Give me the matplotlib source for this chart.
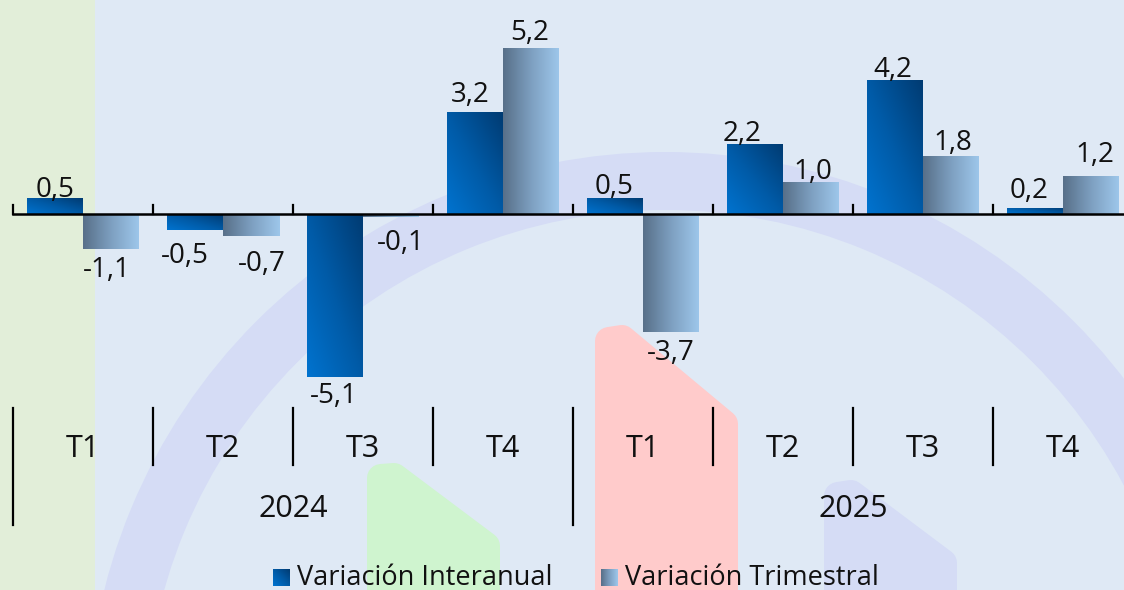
import numpy as np
import matplotlib
matplotlib.use("Agg")
import matplotlib.pyplot as plt
from matplotlib.patches import Rectangle, Wedge, Polygon
from matplotlib.colors import LinearSegmentedColormap
from matplotlib.transforms import blended_transform_factory

plt.rcParams['font.family'] = ['Open Sans', 'DejaVu Sans']

# --- data -------------------------------------------------------------
quarters = ["T1", "T2", "T3", "T4", "T1", "T2", "T3", "T4"]
years = ["2024", "2025"]
interanual = [0.5, -0.5, -5.1, 3.2, 0.5, 2.2, 4.2, 0.2]
trimestral = [-1.1, -0.7, -0.1, 5.2, -3.7, 1.0, 1.8, 1.2]
series_names = ["Variación Interanual", "Variación Trimestral"]

# label nudges in pixels: (horizontal shift, gap between bar end and digits)
nudge_int = [(0, 1), (-10, 13), (-1, 6), (-5, 10), (-1, 4), (-13, 3), (-2, 3), (-6, 10)]
nudge_tri = [(-4, 8), (11, 15), (10, 13), (-1, 8), (0, 8), (2, 3), (2, 6), (4, 14)]

# --- styling ----------------------------------------------------------
W, H = 1124, 590
BG = "#dfe9f5"
STRIP = "#e2eed9"
RING = "#d5dcf5"
PINK = "#ffcbcb"
GREEN = "#cff4cf"
TXT = "#111111"

cmap_int = LinearSegmentedColormap.from_list("int", ["#0073cf", "#005aa6", "#003b72"])
cmap_tri = LinearSegmentedColormap.from_list("tri", ["#587089", "#7d9fc0", "#9dc6ea"])

fig = plt.figure(figsize=(W / 100, H / 100), dpi=100)

# background decoration in pixel coordinates
bg = fig.add_axes([0, 0, 1, 1])
bg.set_xlim(0, W)
bg.set_ylim(H, 0)
bg.axis("off")
bg.add_patch(Rectangle((0, 0), W, H, facecolor=BG, edgecolor="none", zorder=0))
bg.add_patch(Rectangle((0, 0), 95, H, facecolor=STRIP, edgecolor="none", zorder=1))
bg.add_patch(Wedge((665, 730), 578, 0, 360, width=58, facecolor=RING,
                   edgecolor="none", zorder=1))


def rounded_shape(pts, color, r):
    lw = 2 * r * 72 / 100
    bg.add_patch(Polygon(pts, closed=True, facecolor=color, edgecolor=color,
                         linewidth=lw, joinstyle="round", zorder=1))


rounded_shape([(381, 620), (381, 478), (394, 477), (486, 546), (486, 620)], GREEN, 14)
rounded_shape([(609, 620), (609, 341), (622, 339), (724, 424), (724, 620)], PINK, 14)
rounded_shape([(838, 620), (838, 496), (851, 494), (943, 563), (943, 620)], RING, 14)

# main chart axes: 140 px per quarter, 32 px per percentage point
ax = fig.add_axes([0, 0, 1, 1])
ax.patch.set_alpha(0)
ax.axis("off")
x0_px, y0_px, px_x, px_y = 13, 214, 140, 32
xlim = (-0.5 - x0_px / px_x, -0.5 + (W - x0_px) / px_x)
ylim = (-(H - y0_px) / px_y, y0_px / px_y)

n = len(quarters)
idx = np.arange(n)
bw = 0.4
bars_i = ax.bar(idx - bw / 2, interanual, width=bw, color="#0060b0", zorder=3)
bars_t = ax.bar(idx + bw / 2, trimestral, width=bw, color="#7d9fc0", zorder=3)


def gradient(rect, cmap, diagonal):
    x, y = rect.get_x(), rect.get_y()
    w, h = rect.get_width(), rect.get_height()
    yb, yt = min(y, y + h), max(y, y + h)
    gx, gy = np.meshgrid(np.linspace(0, 1, 64), np.linspace(0, 1, 64))
    t = (gx + gy) / 2 if diagonal else gx
    im = ax.imshow(t, extent=[x, x + w, yb, yt], origin="lower", cmap=cmap,
                   vmin=0, vmax=1, aspect="auto", interpolation="bilinear", zorder=4)
    im.set_clip_path(rect)


for r in bars_i:
    gradient(r, cmap_int, True)
for r in bars_t:
    gradient(r, cmap_tri, False)

ax.set_xlim(*xlim)
ax.set_ylim(*ylim)


def fmt(v):
    return f"{v:.1f}".replace(".", ",")


DIGIT_H = 20  # digit height in pixels at the label size
for bars, vals, nudges in ((bars_i, interanual, nudge_int), (bars_t, trimestral, nudge_tri)):
    for r, v, (dx, gap) in zip(bars, vals, nudges):
        cx = r.get_x() + r.get_width() / 2
        dy = gap if v >= 0 else -(gap + DIGIT_H)
        ax.annotate(fmt(v), (cx, v), xytext=(dx, dy), textcoords="offset pixels",
                    ha="center", va="baseline", fontsize=20, color=TXT, zorder=6)

# zero line and upward ticks at quarter boundaries
ax.plot([-0.5, xlim[1] + 1], [0, 0], color="black", lw=1.8, zorder=5, clip_on=False)
bounds = np.arange(n + 1) - 0.5
tick_h = 9 / px_y
for b in bounds:
    ax.plot([b, b], [0, tick_h], color="black", lw=1.6, zorder=5)

# category axis: quarters and years (x in data, y in pixels)
tr = blended_transform_factory(ax.transData, bg.transData)
for k, b in enumerate(bounds):
    bottom = 525 if k % 4 == 0 else 465
    ax.plot([b, b], [408, bottom], color="black", lw=1.6, transform=tr, zorder=5)
for i, q in enumerate(quarters):
    ax.text(i, 457, q, transform=tr, ha="center", va="baseline", fontsize=22,
            color=TXT, zorder=6)
for j, yr in enumerate(years):
    ax.text(4 * j + 1.5, 517, yr, transform=tr, ha="center", va="baseline",
            fontsize=22, color=TXT, zorder=6)

# legend with gradient swatches
sw = 17
leg_items = [(273, cmap_int, True, series_names[0]), (601, cmap_tri, False, series_names[1])]
for lx, cmap, diag, label in leg_items:
    gx, gy = np.meshgrid(np.linspace(0, 1, 32), np.linspace(0, 1, 32))
    t = (gx + gy) / 2 if diag else gx
    bg.imshow(t, extent=[lx, lx + sw, 586, 569], origin="lower", cmap=cmap,
              vmin=0, vmax=1, aspect="auto", interpolation="bilinear", zorder=5)
    bg.text(lx + sw + 7, 585, label, ha="left", va="baseline", fontsize=19.5,
            color=TXT, zorder=6)
bg.set_xlim(0, W)
bg.set_ylim(H, 0)

fig.savefig("out.png", dpi=100, facecolor=BG)
